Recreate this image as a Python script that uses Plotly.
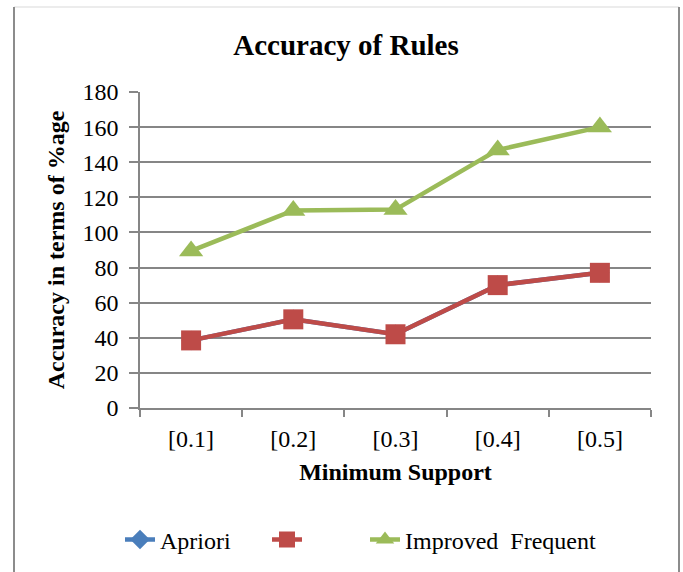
import plotly.graph_objects as go

# Accuracy of association rules at each minimum-support level
support_levels = ["[0.1]", "[0.2]", "[0.3]", "[0.4]", "[0.5]"]
apriori = [38.5, 50.5, 42, 70, 77]
unlabelled_series = [38.5, 50.5, 42, 70, 77]
improved_frequent = [89.5, 112.5, 113, 147, 160]
y_ticks = [0, 20, 40, 60, 80, 100, 120, 140, 160, 180]

FONT = "Liberation Serif, Times New Roman, serif"
GRID = "#868686"

# plot-area geometry in pixels, used to place paper-referenced items
W, H = 683, 572
PL, PR, PT, PB = 140, 651, 92, 408


def px_x(px):
    return (px - PL) / (PR - PL)


def px_y(py):
    return (PB - py) / (PB - PT)


fig = go.Figure()
fig.add_trace(go.Scatter(
    x=support_levels, y=apriori, name="Apriori", mode="lines+markers",
    line=dict(color="#4a7ebb", width=4.5),
    marker=dict(symbol="diamond", size=15, color="#4a7ebb"),
    legend="legend",
))
fig.add_trace(go.Scatter(
    x=support_levels, y=unlabelled_series, name="", mode="lines+markers",
    line=dict(color="#be4b48", width=4.5),
    marker=dict(symbol="square", size=20, color="#be4b48"),
    legend="legend2",
))
fig.add_trace(go.Scatter(
    x=support_levels, y=improved_frequent, name="Improved  Frequent",
    mode="lines+markers",
    line=dict(color="#9bbb59", width=4.5),
    marker=dict(symbol="triangle-up", size=21, color="#9bbb59"),
    legend="legend3",
))

legend_common = dict(orientation="h", yanchor="middle", y=px_y(540), xanchor="left",
                     font=dict(family=FONT, size=24, color="black"),
                     itemsizing="trace", bgcolor="rgba(0,0,0,0)")

fig.update_layout(
    width=W, height=H,
    margin=dict(l=PL, r=W - PR, t=PT, b=H - PB, autoexpand=False),
    paper_bgcolor="white", plot_bgcolor="white",
    font=dict(family=FONT, size=24, color="black"),
    title=dict(text="<b>Accuracy of Rules</b>", xref="container", x=346 / W, xanchor="center",
               y=1 - 45 / H, yanchor="middle",
               font=dict(family=FONT, size=29, color="black")),
    showlegend=True,
    legend=dict(x=px_x(120), **legend_common),
    legend2=dict(x=px_x(267), **legend_common),
    legend3=dict(x=px_x(365), **legend_common),
    xaxis=dict(
        type="category", range=[-0.5, 4.5], showgrid=False,
        showline=True, linecolor=GRID, linewidth=1.5,
        ticks="outside", tickson="boundaries", ticklen=7, tickcolor=GRID, tickwidth=1.5,
        tickfont=dict(family=FONT, size=24), ticklabelstandoff=8,
        title=dict(text="<b>Minimum Support</b>", font=dict(family=FONT, size=24), standoff=13),
    ),
    yaxis=dict(
        range=[0, 180], tickvals=y_ticks, showgrid=True, gridcolor=GRID, gridwidth=1.5,
        showline=True, linecolor=GRID, linewidth=1.5, zeroline=False,
        ticks="outside", ticklen=9, tickcolor=GRID, tickwidth=1.5,
        tickfont=dict(family=FONT, size=24), ticklabelstandoff=6,
        title=dict(text="<b>Accuracy in terms of %age</b>", font=dict(family=FONT, size=24),
                   standoff=11),
    ),
)

# chart frame: faint top edge, darker side edges
fig.add_shape(type="line", xref="paper", yref="paper",
              x0=px_x(14), x1=px_x(679), y0=px_y(7), y1=px_y(7),
              line=dict(color="#d9d9d9", width=1))
for edge in (14, 679):
    fig.add_shape(type="line", xref="paper", yref="paper",
                  x0=px_x(edge), x1=px_x(edge), y0=px_y(7), y1=px_y(590),
                  line=dict(color="#8c8c8c", width=2))

fig.write_html("out.html")
